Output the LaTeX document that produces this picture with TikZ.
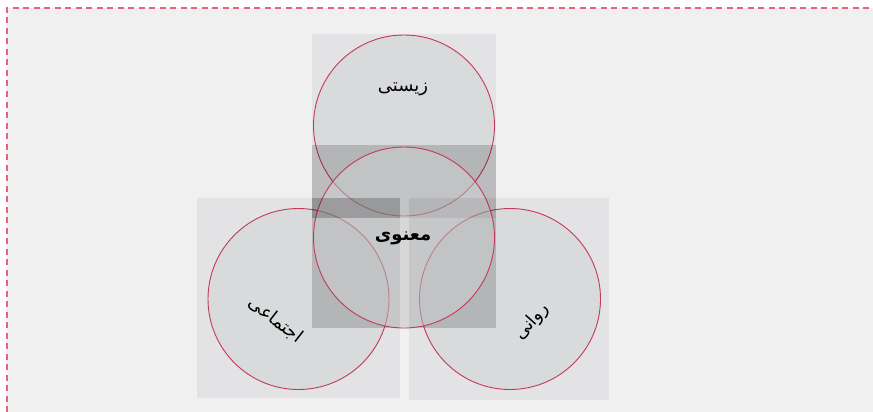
\documentclass[tikz,border=0pt]{standalone}
\usepackage{fontspec}
\newfontfamily\arabicfont[Script=Arabic]{DejaVu Sans}
\TeXXeTstate=1
\definecolor{bgc}{HTML}{F0F0F0}
\definecolor{boxc}{HTML}{E3E3E5}
\definecolor{circfill}{HTML}{D1D2D5}
\definecolor{ringc}{HTML}{C23A57}
\definecolor{dashc}{HTML}{E8627E}
\begin{document}
\begin{tikzpicture}[x=1pt,y=-1pt,
  ring/.style={circle,minimum size=181pt,inner sep=0pt,draw=ringc,line width=0.9pt,fill=circfill,fill opacity=0.5},
  lbl/.style={font=\arabicfont\fontsize{18}{20}\selectfont,text=black,inner sep=0pt}]
\useasboundingbox (0,0) rectangle (873,412);
\fill[white] (0,0) rectangle (873,412);
\fill[bgc] (7,8) rectangle (873,412);
\draw[dashc, line width=1.3pt, dash pattern=on 6pt off 4.5pt] (7,412) -- (7,8) -- (873,8);
% boxes
\fill[boxc] (197,198) rectangle (400,398);
\fill[boxc] (409,198) rectangle (609,400);
\fill[boxc] (312,34) rectangle (496,218);
% circles
\node[ring] (cl) at (298.5,299) {};
\node[ring] (cr) at (510,299) {};
\node[ring] (ct) at (404,125.5) {};
% middle box
\fill[black,opacity=0.17] (312,145) rectangle (496,328);
\node[ring] (cm) at (404,237.5) {};
\fill[white,opacity=0.22] (400,218) rectangle (409,328);
\fill[black,opacity=0.21] (312,198) rectangle (400,218);
\fill[black,opacity=0.07] (409,198) rectangle (496,218);
% labels
\node[lbl] (tz) at (403,89) {\beginR زیستی\endR};
\node[lbl,font=\arabicfont\bfseries\fontsize{18}{20}\selectfont] (tm) at (403,238) {\beginR معنوی\endR};
\node[lbl,rotate=-38] (tl) at (276,320) {\beginR اجتماعی\endR};
\node[lbl,rotate=48] (tr) at (532,322) {\beginR روانی\endR};
\end{tikzpicture}
\end{document}
